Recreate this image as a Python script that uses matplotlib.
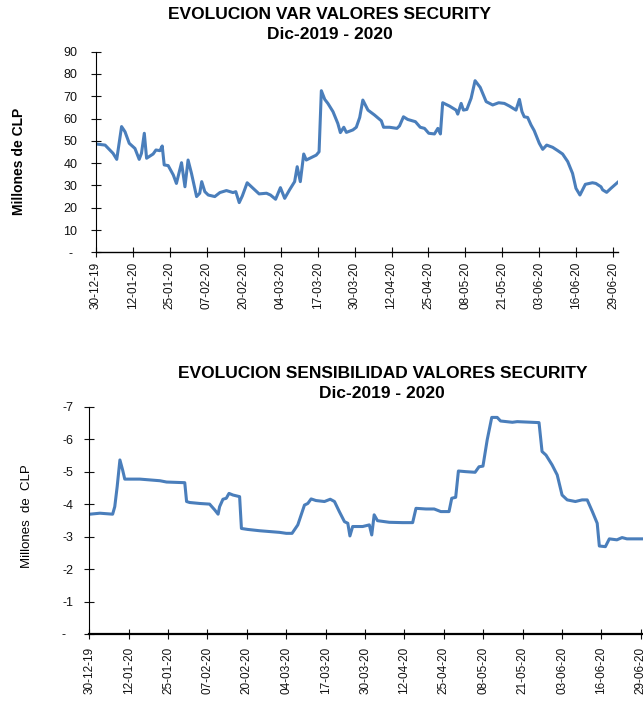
import matplotlib
matplotlib.use('Agg')
import matplotlib.pyplot as plt
import matplotlib.transforms as mtransforms

plt.rcParams['font.family'] = ['Liberation Sans', 'DejaVu Sans']

# fechas del eje x (cada 13 dias desde 30-12-19)
tick_days = [0, 13, 26, 39, 52, 65, 78, 91, 104, 117, 130, 143, 156, 169, 182]
tick_labels = ['30-12-19', '12-01-20', '25-01-20', '07-02-20', '20-02-20',
               '04-03-20', '17-03-20', '30-03-20', '12-04-20', '25-04-20',
               '08-05-20', '21-05-20', '03-06-20', '16-06-20', '29-06-20']

# VaR (millones de CLP), dias desde 30-12-19
var_days = [0, 3.2, 6, 7.3, 9, 10.2, 11.7, 13.7, 15.2, 16, 17, 17.8, 20.1, 21.1,
            22.5, 23.3, 24, 25.4, 27.2, 28.3, 30.1, 31.3, 32.4, 33.6, 35.4, 36.5,
            37.2, 38.3, 39.5, 41.8, 43.6, 45.9, 48.2, 49.2, 50.4, 51.5, 53.2, 54.7,
            57.4, 60, 61.4, 63.2, 64.9, 66.4, 68.1, 69.9, 70.8, 71.9, 73.1, 74,
            77.5, 78.5, 79.3, 80.5, 81.6, 83.4, 85.1, 86, 87.2, 88.1, 90.4, 91.6,
            92.8, 93.9, 95.7, 98.0, 100.4, 101.2, 103.3, 105.9, 106.8, 108.2,
            109.7, 112.4, 114.1, 115.6, 117.1, 119.1, 120.3, 121.2, 122.0, 124.4,
            126.7, 127.3, 128.5, 129.3, 130.5, 132.0, 133.4, 135.2, 137.3, 139.6,
            141.7, 143.7, 145.5, 147.8, 149.0, 149.9, 150.7, 151.9, 153.1, 154.2,
            156.0, 157.2, 158.6, 160.7, 162.5, 164.2, 166.0, 167.7, 168.9, 170.3,
            172.2, 174.7, 175.9, 177.7, 178.3, 179.7, 181.2, 183.6]
var_vals = [48.6, 48.1, 44.4, 41.7, 56.4, 54.1, 48.9, 46.6, 41.7, 44.4, 53.4, 42.2,
            44.1, 45.9, 45.6, 47.7, 39.2, 38.9, 34.7, 30.9, 40.2, 29.4, 41.4, 35.4,
            25.0, 26.5, 31.7, 27.2, 25.7, 25.0, 26.8, 27.7, 26.8, 27.2, 22.3, 25.3,
            31.2, 29.4, 26.2, 26.5, 25.7, 23.8, 29.0, 24.2, 28.0, 31.7, 38.4, 31.7,
            44.1, 41.4, 43.6, 45.1, 72.5, 68.6, 66.8, 63.1, 57.8, 53.7, 56.1, 53.8,
            54.9, 56.1, 60.5, 68.3, 63.8, 61.6, 59.0, 56.1, 56.1, 55.6, 56.7, 60.8,
            59.6, 58.6, 56.1, 55.6, 53.4, 53.1, 55.6, 53.1, 67.1, 65.6, 63.8, 62.0,
            66.8, 63.8, 64.1, 69.1, 77.0, 74.0, 67.6, 66.1, 67.1, 66.8, 65.6, 63.8,
            68.6, 63.1, 60.8, 60.5, 57.1, 54.6, 48.9, 46.2, 48.1, 47.1, 45.6, 44.1,
            40.7, 35.4, 28.7, 25.7, 30.5, 31.2, 30.9, 29.4, 28.0, 26.9, 28.7, 31.4]

# sensibilidad (millones de CLP)
sens_days = [0.2, 3.5, 7.7, 8.4, 9.2, 10.1, 11, 11.7, 16.7, 23.3, 25.5, 31.5, 32.1,
             33.1, 36.4, 39.7, 41.4, 42.5, 43, 44.1, 45.2, 46.1, 47.4, 49.6, 50.2,
             52.3, 56.2, 62.8, 65, 66.9, 68.8, 71, 72.1, 73.2, 74.8, 77.6, 79.5,
             80.9, 82.5, 84.2, 85.3, 86.0, 86.9, 90.2, 92.4, 93.2, 94.0, 95.1, 99.0,
             103.4, 106.7, 107.8, 111.1, 113.8, 116.0, 118.7, 119.6, 120.9, 121.8,
             124.2, 127.3, 128.6, 129.9, 131.3, 132.8, 134.6, 135.7, 139.6, 141.2,
             148.4, 149.4, 150.7, 152.7, 154.4, 156.0, 157.7, 160.4, 162.6, 164.3,
             166.0, 167.6, 168.3, 170.3, 171.6, 174.1, 175.8, 177.4, 183.6]
sens_vals = [-3.69, -3.72, -3.69, -3.92, -4.54, -5.36, -5.05, -4.77, -4.77, -4.72,
             -4.68, -4.66, -4.08, -4.05, -4.02, -4.00, -3.82, -3.69, -3.92, -4.15,
             -4.18, -4.33, -4.28, -4.23, -3.25, -3.22, -3.18, -3.13, -3.10, -3.10,
             -3.36, -3.97, -4.02, -4.16, -4.11, -4.08, -4.15, -4.08, -3.77, -3.46,
             -3.41, -3.02, -3.31, -3.31, -3.36, -3.05, -3.67, -3.49, -3.44, -3.43,
             -3.43, -3.87, -3.85, -3.85, -3.77, -3.77, -4.18, -4.21, -5.02, -5.00,
             -4.98, -5.15, -5.17, -5.98, -6.67, -6.67, -6.56, -6.52, -6.54, -6.51,
             -5.62, -5.51, -5.21, -4.90, -4.28, -4.13, -4.08, -4.13, -4.13, -3.77,
             -3.41, -2.71, -2.69, -2.93, -2.90, -2.97, -2.93, -2.93]

var_ticks = [0, 10, 20, 30, 40, 50, 60, 70, 80, 90]
var_ticklabels = ['-', '10', '20', '30', '40', '50', '60', '70', '80', '90']
sens_ticks = [0, -1, -2, -3, -4, -5, -6, -7]
sens_ticklabels = ['-', '-1', '-2', '-3', '-4', '-5', '-6', '-7']

W, H = 643, 707
fig = plt.figure(figsize=(W / 100, H / 100), dpi=100)
color = '#4a7ebb'

ax1 = fig.add_axes([96 / W, (H - 252.3) / H, 522.3 / W, 200.6 / H])
ax2 = fig.add_axes([89.3 / W, (H - 634) / H, 557 / W, 227.3 / H])

ax1.plot(var_days, var_vals, color=color, lw=2.2, solid_joinstyle='round')
ax1.set_xlim(0, 183.8)
ax1.set_ylim(0, 90)
ax1.set_yticks(var_ticks)
ax1.set_yticklabels(var_ticklabels)

ax2.plot(sens_days, sens_vals, color=color, lw=2.2, solid_joinstyle='round')
ax2.set_xlim(0, 183.8)
ax2.set_ylim(0, -7)
ax2.set_yticks(sens_ticks)
ax2.set_yticklabels(sens_ticklabels)

for ax in [ax1, ax2]:
    ax.set_xticks(tick_days)
    ax.set_xticklabels(tick_labels, rotation=90)
    ax.spines['top'].set_visible(False)
    ax.spines['right'].set_visible(False)
    ax.spines['left'].set_linewidth(0.8)
    ax.tick_params(direction='inout', length=6.5, width=0.8, colors='#111111')
    ax.tick_params(axis='x', labelsize=8.5)
    ax.tick_params(axis='y', labelsize=9)

ax1.spines['bottom'].set_linewidth(1.0)
ax2.spines['bottom'].set_linewidth(1.6)
ax1.tick_params(axis='y', pad=10.2)
ax1.tick_params(axis='x', pad=3.5)
ax2.tick_params(axis='y', pad=8.3)
ax2.tick_params(axis='x', pad=5.9)

# el "-" del cero va un poco mas a la izquierda (formato contable)
for ax, dx in [(ax1, 5.3), (ax2, 7.3)]:
    lab = ax.get_yticklabels()[0]
    lab.set_transform(lab.get_transform() +
                      mtransforms.ScaledTranslation(-dx / 100, 0, fig.dpi_scale_trans))

# titulos
fig.text(330 / W, 1 - 14.5 / H, 'EVOLUCION VAR VALORES SECURITY', ha='center',
         va='center', fontsize=12.5, fontweight='bold')
fig.text(330 / W, 1 - 34.5 / H, 'Dic-2019 - 2020', ha='center', va='center',
         fontsize=12.5, fontweight='bold')
fig.text(383 / W, 1 - 373.7 / H, 'EVOLUCION SENSIBILIDAD VALORES SECURITY',
         ha='center', va='center', fontsize=12.5, fontweight='bold')
fig.text(382 / W, 1 - 393 / H, 'Dic-2019 - 2020', ha='center', va='center',
         fontsize=12.5, fontweight='bold')

fig.text(19 / W, 1 - 161 / H, 'Millones de CLP', rotation=90, ha='center',
         va='center', fontsize=10, fontweight='bold')
fig.text(27.5 / W, 1 - 516 / H, 'Millones  de  CLP', rotation=90, ha='center',
         va='center', fontsize=9.5)

fig.savefig('out.png', dpi=100)
